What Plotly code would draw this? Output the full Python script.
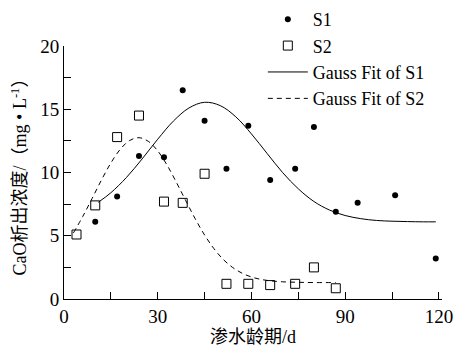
import plotly.graph_objects as go

# measured data
s1_x = [10, 17, 24, 32, 38, 45, 52, 59, 66, 74, 80, 87, 94, 106, 119]
s1_y = [6.1, 8.1, 11.3, 11.2, 16.5, 14.1, 10.3, 13.7, 9.4, 10.3, 13.6, 6.9, 7.6, 8.2, 3.2]

s2_x = [4, 10, 17, 24, 32, 38, 45, 52, 59, 66, 74, 80, 87]
s2_y = [5.1, 7.4, 12.8, 14.5, 7.7, 7.6, 9.9, 1.2, 1.2, 1.1, 1.2, 2.5, 0.85]

# fitted curves
fit1_x = [11, 15, 20, 25, 30, 35, 40, 45, 50, 55, 60, 65, 70, 75, 80, 85, 90, 95, 100, 105, 110, 115, 119]
fit1_y = [7.65, 8.40, 9.61, 11.07, 12.63, 14.06, 15.10, 15.55, 15.29, 14.40, 13.05, 11.51, 9.99, 8.71,
          7.71, 7.03, 6.60, 6.35, 6.21, 6.15, 6.12, 6.10, 6.10]

fit2_x = [3, 6, 9, 12, 15, 18, 21, 24, 27, 30, 33, 36, 39, 42, 45, 48, 51, 54, 57, 60, 63, 66, 70, 75, 80, 87]
fit2_y = [5.22, 6.52, 7.95, 9.41, 10.75, 11.83, 12.53, 12.75, 12.46, 11.71, 10.58, 9.21, 7.76, 6.34,
          5.06, 3.98, 3.12, 2.49, 2.04, 1.74, 1.55, 1.44, 1.36, 1.32, 1.30, 1.30]

x_tickvals = [0, 15, 30, 45, 60, 75, 90, 105, 120]
x_ticktext = ["0", "", "30", "", "60", "", "90", "", "120"]
y_tickvals = [0, 2.5, 5, 7.5, 10, 12.5, 15, 17.5, 20]
y_ticktext = ["0", "", "5", "", "10", "", "15", "", "20"]

FONT = "Liberation Serif, serif"
CJK = "Liberation Serif, Noto Sans CJK SC, serif"

fig = go.Figure()
fig.add_trace(go.Scatter(x=s1_x, y=s1_y, mode="markers", name="S1",
                         marker=dict(symbol="circle", size=6, color="black")))
fig.add_trace(go.Scatter(x=s2_x, y=s2_y, mode="markers", name="S2",
                         marker=dict(symbol="square-open", size=9, color="black",
                                     line=dict(width=1, color="black"))))
fig.add_trace(go.Scatter(x=fit1_x, y=fit1_y, mode="lines", name="Gauss Fit of S1",
                         line=dict(color="black", width=1, shape="spline")))
fig.add_trace(go.Scatter(x=fit2_x, y=fit2_y, mode="lines", name="Gauss Fit of S2",
                         line=dict(color="black", width=1, dash="5px,4px", shape="spline")))

fig.update_layout(
    width=457, height=351,
    margin=dict(l=64, r=15, t=46, b=52, autoexpand=False),
    paper_bgcolor="white", plot_bgcolor="white",
    font=dict(family=FONT, size=17, color="black"),
    showlegend=True,
    legend=dict(x=0.526, y=1.178, xanchor="left", yanchor="top",
                bgcolor="rgba(0,0,0,0)", font=dict(size=18, family=FONT, color="black"),
                itemwidth=40, tracegroupgap=0),
    xaxis=dict(range=[0, 121], showgrid=False, zeroline=False, showline=True, automargin=False,
               linecolor="black", linewidth=1, ticks="inside", ticklen=7,
               tickcolor="black", tickmode="array", tickvals=x_tickvals,
               ticktext=x_ticktext, tickfont=dict(size=19, family=FONT, color="black"),
               title=dict(text="渗水龄期/d", font=dict(size=18, family=CJK, color="black"), standoff=4)),
    yaxis=dict(range=[0, 20], showgrid=False, zeroline=False, showline=True, automargin=False,
               linecolor="black", linewidth=1, ticks="inside", ticklen=7,
               tickcolor="black", tickmode="array", tickvals=y_tickvals,
               ticktext=y_ticktext, tickfont=dict(size=19, family=FONT, color="black"),
               title=dict(text="CaO析出浓度/（mg • L<sup>-1</sup>）",
                          font=dict(size=18, family=CJK, color="black"), standoff=8)),
)

fig.write_html("out.html")
